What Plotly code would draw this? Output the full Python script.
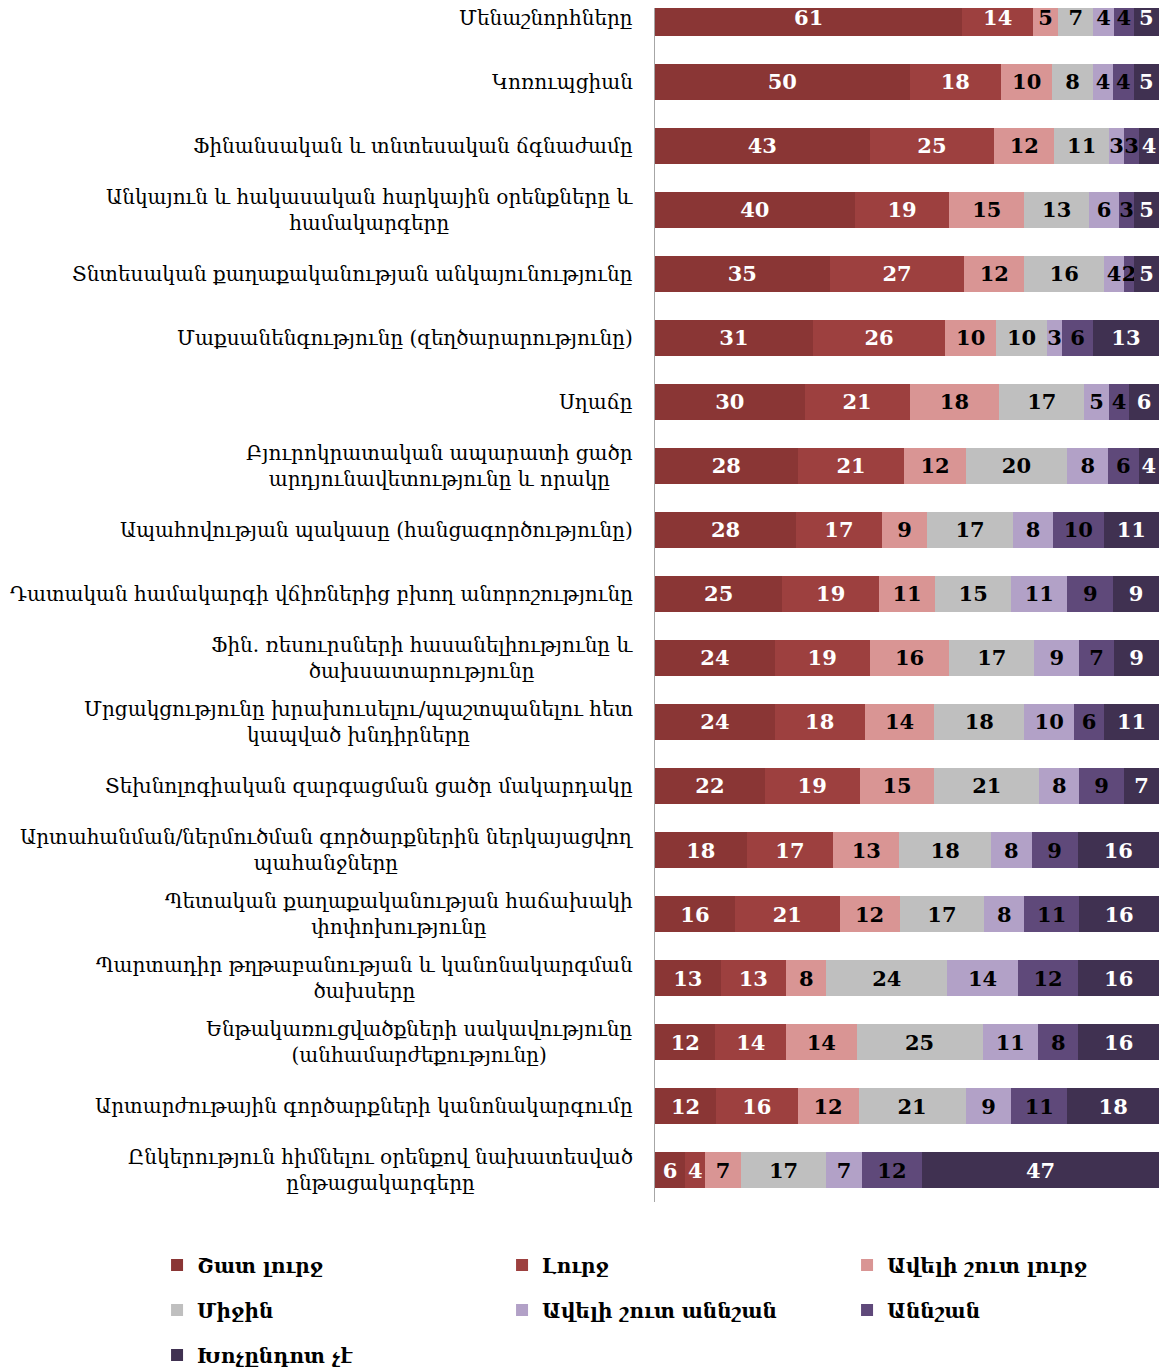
import plotly.graph_objects as go

categories = [
    "Մենաշնորհները",
    "Կոռուպցիան",
    "Ֆինանսական և տնտեսական ճգնաժամը",
    "Անկայուն և հակասական հարկային օրենքները և<br>համակարգերը",
    "Տնտեսական քաղաքականության անկայունությունը",
    "Մաքսանենգությունը (զեղծարարությունը)",
    "Սղաճը",
    "Բյուրոկրատական ապարատի ցածր<br>արդյունավետությունը և որակը",
    "Ապահովության պակասը (հանցագործությունը)",
    "Դատական համակարգի վճիռներից բխող անորոշությունը",
    "Ֆին. ռեսուրսների հասանելիությունը և<br>ծախսատարությունը",
    "Մրցակցությունը խրախուսելու/պաշտպանելու հետ<br>կապված խնդիրները",
    "Տեխնոլոգիական զարգացման ցածր մակարդակը",
    "Արտահանման/ներմուծման գործարքներին ներկայացվող<br>պահանջները",
    "Պետական քաղաքականության հաճախակի<br>փոփոխությունը",
    "Պարտադիր թղթաբանության և կանոնակարգման<br>ծախսերը",
    "Ենթակառուցվածքների սակավությունը<br>(անհամարժեքությունը)",
    "Արտարժութային գործարքների կանոնակարգումը",
    "Ընկերություն հիմնելու օրենքով նախատեսված<br>ընթացակարգերը",
]

series_names = [
    "Շատ լուրջ",
    "Լուրջ",
    "Ավելի շուտ լուրջ",
    "Միջին",
    "Ավելի շուտ աննշան",
    "Աննշան",
    "Խոչընդոտ չէ",
]

very_serious = [61, 50, 43, 40, 35, 31, 30, 28, 28, 25, 24, 24, 22, 18, 16, 13, 12, 12, 6]
serious = [14, 18, 25, 19, 27, 26, 21, 21, 17, 19, 19, 18, 19, 17, 21, 13, 14, 16, 4]
rather_serious = [5, 10, 12, 15, 12, 10, 18, 12, 9, 11, 16, 14, 15, 13, 12, 8, 14, 12, 7]
moderate = [7, 8, 11, 13, 16, 10, 17, 20, 17, 15, 17, 18, 21, 18, 17, 24, 25, 21, 17]
rather_minor = [4, 4, 3, 6, 4, 3, 5, 8, 8, 11, 9, 10, 8, 8, 8, 14, 11, 9, 7]
minor = [4, 4, 3, 3, 2, 6, 4, 6, 10, 9, 7, 6, 9, 9, 11, 12, 8, 11, 12]
not_obstacle = [5, 5, 4, 5, 5, 13, 6, 4, 11, 9, 9, 11, 7, 16, 16, 16, 16, 18, 47]

series_values = [very_serious, serious, rather_serious, moderate, rather_minor, minor, not_obstacle]
colors = ["#8A3635", "#9D403F", "#D99594", "#BFBFBF", "#B2A1C7", "#5F497A", "#403151"]
text_colors = ["white", "white", "black", "black", "black", "black", "white"]
legend_ids = ["legend", "legend", "legend", "legend2", "legend2", "legend2", "legend3"]

SERIF = "DejaVu Serif"

fig = go.Figure()
for name, vals, col, tcol, lg in zip(series_names, series_values, colors, text_colors, legend_ids):
    fig.add_trace(go.Bar(
        y=categories,
        x=vals,
        name=name,
        orientation="h",
        marker=dict(color=col, line=dict(width=0)),
        text=[str(v) for v in vals],
        textposition="inside",
        insidetextanchor="middle",
        textangle=0,
        constraintext="none",
        insidetextfont=dict(family=SERIF, size=21, color=tcol, weight="bold"),
        legend=lg,
        hoverinfo="skip",
    ))

for cat in categories:
    fig.add_annotation(
        x=-0.040, xref="paper", xanchor="right",
        y=cat, yref="y", yanchor="middle",
        text=cat, align="center", showarrow=False,
        font=dict(family=SERIF, size=20, color="black"),
    )

legend_common = dict(
    orientation="h",
    traceorder="normal",
    entrywidth=300, entrywidthmode="pixels",
    font=dict(family=SERIF, size=20, color="black", weight="bold"),
    xref="paper", yref="paper",
    x=-0.988, xanchor="left", yanchor="middle",
    bgcolor="rgba(0,0,0,0)",
)

fig.update_layout(
    width=1160, height=1372,
    margin=dict(l=655, r=1, t=8, b=170, autoexpand=False),
    barmode="stack",
    barnorm="percent",
    bargap=0.44,
    plot_bgcolor="white",
    paper_bgcolor="white",
    uniformtext=dict(minsize=21, mode="show"),
    xaxis=dict(range=[0, 100], visible=False, fixedrange=True),
    yaxis=dict(
        type="category",
        categoryorder="array", categoryarray=categories,
        range=[18.5, -0.156],
        showticklabels=False, ticks="",
        showgrid=False, zeroline=False,
        showline=True, linecolor="#A6A6A6", linewidth=1,
    ),
    legend=dict(**legend_common, y=-0.0528),
    legend2=dict(**legend_common, y=-0.0905),
    legend3=dict(**legend_common, y=-0.1281),
    showlegend=True,
)

fig.write_html(
    "out.html",
    config={"displayModeBar": False},
    post_script="document.body.style.margin='0';document.body.style.overflow='hidden';",
)
